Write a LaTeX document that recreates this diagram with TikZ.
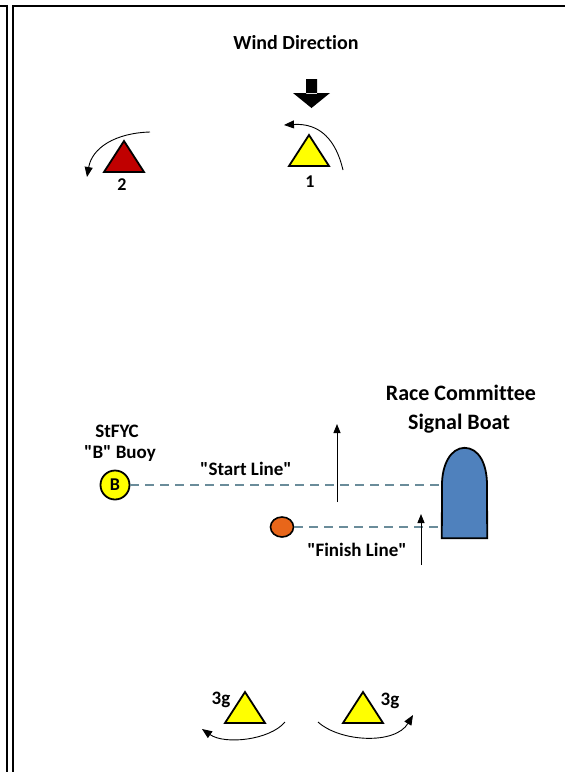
\documentclass[tikz,border=0pt]{standalone}
\usepackage{fontspec}
\setmainfont{Carlito}[Ligatures={TeX,NoCommon}]
\usetikzlibrary{arrows.meta,calc,positioning,shapes.geometric}
\definecolor{markyellow}{HTML}{FFFF00}
\definecolor{markred}{HTML}{C00000}
\definecolor{boatblue}{HTML}{4F81BD}
\definecolor{finishorange}{HTML}{E8661A}
\definecolor{lineteal}{HTML}{6A8C9A}
\tikzset{
  x=1pt, y=-1pt,
  lbl/.style={font=\bfseries\fontsize{19}{21}\selectfont, inner sep=1pt},
  num/.style={font=\bfseries\fontsize{18}{20}\selectfont, inner sep=1pt},
  bigtxt/.style={font=\bfseries\fontsize{22}{24}\selectfont, inner sep=1pt, align=center},
  course/.style={-{Triangle[length=9pt,width=7pt]}, line width=0.9pt},
  rounding/.style={-{Triangle[length=10pt,width=8pt]}, line width=0.9pt},
  startline/.style={dashed, dash pattern=on 9pt off 6pt, lineteal, line width=1.6pt},
}
% a course mark: name, position, colour
\newcommand{\coursemark}[3]{%
  \coordinate (#1) at #2;
  \filldraw[fill=#3, draw=black, line width=1.8pt, line join=miter]
    ($(#1)+(-20,15)$) -- ($(#1)+(0,-16)$) -- ($(#1)+(20,15)$) -- cycle;}
\newcommand{\qq}[1]{\textquotedbl#1\textquotedbl}

\begin{document}
\begin{tikzpicture}
    \useasboundingbox (0,0) rectangle (565,772);

    % frame
    \draw[line width=2pt] (0,6) -- (7,6) -- (7,772);
    \draw[line width=2pt] (13,772) -- (13,6) -- (565,6);

    % wind
    \node [lbl, font=\bfseries\fontsize{20}{22}\selectfont] (wind) at (296,43) {Wind Direction};
    \fill (306,79) rectangle (317,94) (293,93) -- (330,93) -- (311.5,108) -- cycle;

    % windward marks
    \coursemark{m1}{(309,151)}{markyellow}
    \node [num] (n1) at (310,182) {1};
    \draw[rounding] (343,170) .. controls (336,140) and (320,123) .. (284,125);

    \coursemark{m2}{(124,157)}{markred}
    \node [num] (n2) at (122,185) {2};
    \draw[rounding] (150,132) .. controls (115,133) and (92,148) .. (87,177);

    % start area
    \node [bigtxt] (rc) at (461,393) {Race Committee};
    \node [bigtxt] (sb) at (459,424) {Signal Boat};

    \node [lbl] (stfyc) at (117,431) {StFYC};
    \node [lbl] (bb) at (120,454) {\qq{B} Buoy};

    \node [circle, draw=black, line width=1.8pt, fill=markyellow, minimum size=29pt,
           inner sep=0pt, num] (buoyB) at (115,485) {B};

    \node [minimum width=45pt, minimum height=90pt, inner sep=0pt] (boat) at (464.5,493) {};
    \filldraw[fill=boatblue, draw=black, line width=1.8pt]
        (boat.south west) -- (442,485)
        .. controls (442,464) and (451,448) .. (boat.north)
        .. controls (479,448) and (487,464) .. (487,485)
        -- (boat.south east) -- cycle;

    \node [ellipse, draw=black, line width=1.6pt, fill=finishorange, minimum width=23pt,
           minimum height=20pt, inner sep=0pt] (finish) at (282,527) {};

    \draw[startline] (buoyB.east) -- (boat.west |- buoyB);
    \draw[startline] (finish.east) -- (boat.west |- finish);
    \node [lbl] (sl) at (246,469) {\qq{Start Line}};
    \node [lbl] (fl) at (357,550) {\qq{Finish Line}};

    \coordinate (s1) at (337,502);
    \coordinate (s2) at (337,424);
    \draw[course] (s1) -- (s2);
    \coordinate (f1) at (421,565);
    \coordinate (f2) at (421,514);
    \draw[course] (f1) -- (f2);

    % leeward gate
    \coursemark{g1}{(245,708)}{markyellow}
    \node [lbl] (g1l) at (221,700) {3g};
    \draw[rounding] (285,722) .. controls (270,740) and (225,745) .. (202,729);

    \coursemark{g2}{(363,708)}{markyellow}
    \node [lbl] (g2l) at (390,701) {3g};
    \draw[rounding] (318,722) .. controls (340,742) and (395,745) .. (413,715);
\end{tikzpicture}
\end{document}
